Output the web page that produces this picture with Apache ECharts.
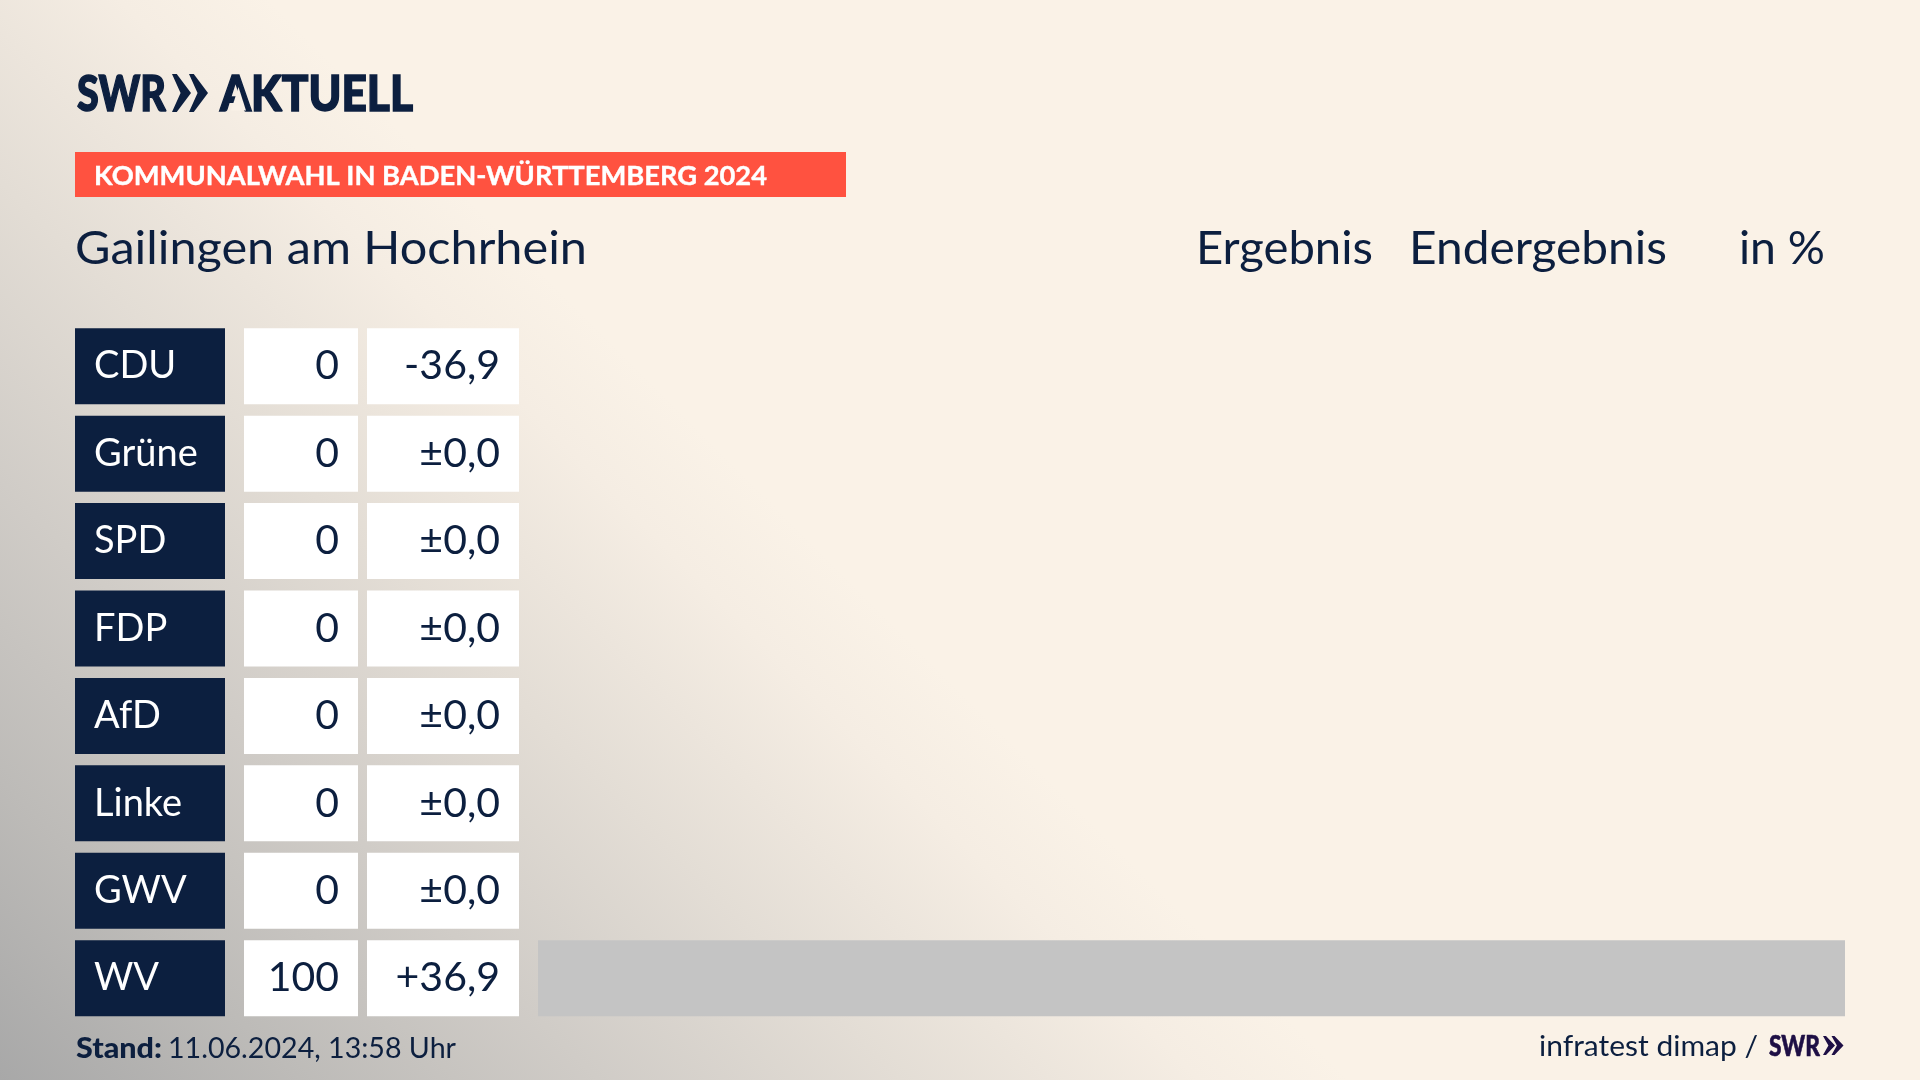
<!DOCTYPE html>
<html><head><meta charset="utf-8">
<style>
html,body{margin:0;padding:0;width:1920px;height:1080px;overflow:hidden;background-color:#faf2e7;
background-image:linear-gradient(45deg,#a8a8a8 0%,#bdbbb8 10%,#d0ccc7 20%,#e3ddd5 30%,#f5ede3 40%,#faf2e7 45%);}
#c{width:1920px;height:1080px}
</style>
<script src="https://cdn.jsdelivr.net/npm/echarts@6/dist/echarts.min.js"></script>
</head><body><div id="c"></div>
<script>
const parties = ['CDU','Grüne','SPD','FDP','AfD','Linke','GWV','WV'];
const results = [0,0,0,0,0,0,0,100];
const diffs = ['-36,9','±0,0','±0,0','±0,0','±0,0','±0,0','±0,0','+36,9'];
const axisMax = 100;
const NAVY='#0c1f3f', PURPLE='#1e0f45', CREAM='#f9f1e7', FONT='Lato';
const mc=document.createElement('canvas').getContext('2d');
function txt(s,x,base,size,target,opt={}){
  const w=opt.weight||'normal';
  mc.font=`${w} ${size}px ${FONT}`;
  const sx=target/mc.measureText(s).width;
  const style={text:s,x:0,y:0,font:`${w} ${size}px ${FONT}`,fill:opt.fill||NAVY,verticalAlign:'top'};
  if(opt.bolden){style.stroke=opt.fill||NAVY;style.lineWidth=opt.bolden;}
  return {type:'text',x,y:base-0.80*size,scaleX:sx,silent:true,z:10,style};
}
function chev(x,y,h,w,gap,n,fill){
  const out=[];
  for(let i=0;i<n;i++){const o=x+i*gap;
    out.push({type:'polygon',silent:true,z:10,shape:{points:[[o,y],[o+w*0.25,y],[o+w,y+h/2],[o+w*0.25,y+h],[o,y+h],[o+w*0.45,y+h/2]]},style:{fill}});}
  return out;
}
const chart=echarts.init(document.getElementById('c'),null,{renderer:'canvas',width:1920,height:1080});
function labelAxis(data,offset,width,align,padding,fontSize){
  return {type:'category',inverse:true,position:'left',offset,data,
    axisLine:{show:false},axisTick:{show:false},splitLine:{show:false},
    axisLabel:{show:true,interval:0,margin:0,align,width,height:70,lineHeight:70,padding,
      backgroundColor:align==='left'?NAVY:'#ffffff',color:align==='left'?'#ffffff':NAVY,
      fontFamily:FONT,fontSize,verticalAlign:'middle',overflow:'none'}};
}
chart.setOption({
  animation:false,
  backgroundColor:'transparent',
  grid:{left:538,right:75,top:322.5,bottom:58.1,containLabel:false},
  xAxis:{type:'value',min:0,max:axisMax,show:false},
  yAxis:[
    labelAxis(parties,463,131,'left',[6,0,0,19],38),
    labelAxis(results.map(String),180,95,'right',[6,19,0,0],41),
    labelAxis(diffs,19,133,'right',[6,19,0,0],41)
  ],
  series:[{type:'bar',yAxisIndex:0,data:results,barWidth:76,itemStyle:{color:'#c4c4c4'},silent:true}],
  graphic:[
    {type:'rect',silent:true,z:9,shape:{x:75,y:152,width:771,height:45},style:{fill:'#ff5240'}},
    txt('SWR',77,110,50,89,{weight:'900',bolden:1.5}),
    ...chev(172,74,38,19,17,2,NAVY),
    txt('AKTUELL',220,110,50,193,{weight:'900',bolden:1.5}),
    {type:'polygon',silent:true,z:11,shape:{points:[[238.5,87],[231,110.5],[246,110.5]]},style:{fill:CREAM}},
    txt('KOMMUNALWAHL IN BADEN-WÜRTTEMBERG 2024',94,184,27,673,{weight:'bold',fill:'#ffffff',bolden:0.4}),
    txt('Gailingen am Hochrhein',75,263,47,512),
    txt('Ergebnis',1196,263,47,177),
    txt('Endergebnis',1409,263,47,258),
    txt('in %',1739,263,47,86),
    txt('Stand:',76,1057,28,86,{weight:'900'}),
    txt('11.06.2024, 13:58 Uhr',168,1057,28,288),
    txt('infratest dimap /',1539,1055,28,219),
    txt('SWR',1769,1055,28,51,{weight:'900',fill:PURPLE,bolden:0.6}),
    ...chev(1823,1036,19,12,8.5,2,PURPLE)
  ]
});
</script></body></html>
